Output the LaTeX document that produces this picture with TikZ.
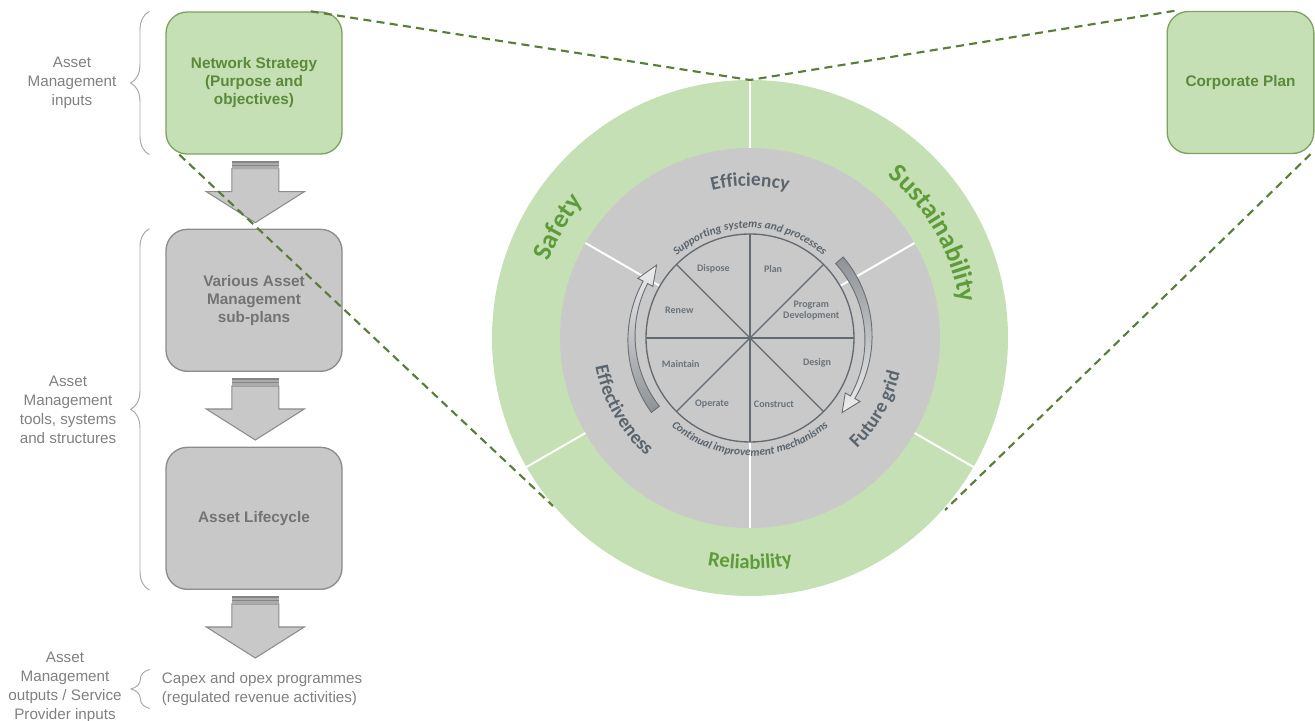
\documentclass[tikz,border=0pt]{standalone}
\usepackage{fontspec}
\setmainfont{Liberation Sans}
\newfontfamily\carlito{Carlito}
\usetikzlibrary{calc,positioning,decorations.text,decorations.pathreplacing}
\definecolor{leafgreen}{HTML}{C5E0B4}
\definecolor{boxedge}{HTML}{7FA35F}
\definecolor{greentext}{HTML}{5B8A3A}
\definecolor{boxgray}{HTML}{C8C8C8}
\definecolor{grayedge}{HTML}{8C8C8C}
\definecolor{graytext}{HTML}{737373}
\definecolor{labelgray}{HTML}{808080}
\definecolor{bracegray}{HTML}{A6A6A6}
\definecolor{ringtext}{HTML}{5E9B3A}
\definecolor{discgray}{HTML}{C9C9C9}
\definecolor{disctext}{HTML}{5B656E}
\definecolor{pietext}{HTML}{6B737B}
\definecolor{pieline}{HTML}{636A71}
\definecolor{dashgreen}{HTML}{5A7D3A}
\definecolor{arrowdark}{HTML}{8E9296}
\definecolor{arrowlight}{HTML}{EDEDED}
\definecolor{arrowedge}{HTML}{6B7075}
\definecolor{stripedark}{HTML}{858585}
\definecolor{stripelight}{HTML}{ABABAB}
\tikzset{
plan box/.style={draw=boxedge,fill=leafgreen,line width=1pt,rounded corners=16pt,
  minimum width=132pt,minimum height=106.5pt,align=center,text=greentext,
  font=\fontsize{11.5}{13.5}\selectfont\bfseries},
gray box/.style={plan box,draw=grayedge,fill=boxgray,text=graytext},
side label/.style={align=center,text=labelgray,font=\fontsize{11.4}{14.3}\selectfont},
bracket line/.style={draw=bracegray,line width=0.7pt,decorate,
  decoration={brace,amplitude=14pt}},
zoom line/.style={draw=dashgreen,line width=1.6pt,dash pattern=on 6pt off 4pt},
divider/.style={draw=white,line width=1.5pt},
pie line/.style={draw=pieline,line width=1pt},
phase/.style={text=pietext,align=center,font=\carlito\bfseries\fontsize{7.5}{8.3}\selectfont},
along/.style={decorate,decoration={text along path,text align=center,#1}},
cycle arrow/.style={draw=arrowedge,line width=0.7pt},
arrow body/.style={draw=grayedge,fill=boxgray,line width=0.8pt},
stage arrow/.pic={
  \draw[arrow body] (-23.5,-8) -- (-23.5,-31) -- (-49,-31) -- (0,-62)
    -- (49,-31) -- (23.5,-31) -- (23.5,-8) -- cycle;
  \fill[stripedark] (-23.5,0) rectangle (23.5,-2);
  \fill[stripelight] (-23.5,-2) rectangle (23.5,-4);
  \fill[stripedark] (-23.5,-4) rectangle (23.5,-5.5);
  \fill[stripelight] (-23.5,-5.5) rectangle (23.5,-8);
},
}
\begin{document}
\begin{tikzpicture}[x=0.75pt,y=0.75pt]
\useasboundingbox (0,0) rectangle (1315,721);

% wheel
\coordinate (c) at (750,383);
\coordinate (top) at ($(c)+(90:258)$);
\coordinate (llow) at (553,215);
\coordinate (rlow) at (945,211);
\begin{scope}[shift={(c)}]
  \fill[leafgreen] (0,0) circle (258);
  \fill[discgray] (0,0) circle (190);
  \foreach \a in {90,210,330} \draw[divider] (\a:190) -- (\a:258);
  \foreach \a in {30,150,270} \draw[divider] (\a:104) -- (\a:190);
  \draw[pie line] (0,0) circle (104);
  \foreach \a in {0,45,90,135} \draw[pie line] (\a:104) -- ({\a+180}:104);

  \node[phase] (plan) at (71.6:73) {Plan};
  \node[phase] (progdev) at (23.9:67) {Program\\Development};
  \node[phase] (design) at (-20.5:71.5) {Design};
  \node[phase] (construct) at (-70:70) {Construct};
  \node[phase] (operate) at (240:76) {Operate};
  \node[phase] (maintain) at (200.6:74) {Maintain};
  \node[phase] (renew) at (158.5:76) {Renew};
  \node[phase] (dispose) at (118:78) {Dispose};

  \draw[cycle arrow,top color=arrowlight,bottom color=arrowdark]
    plot[domain=0:65,variable=\t] ({217-\t}:{121+2.5*(65-\t)/65})
    -- (152:127) -- (142:118.5) -- (152:110)
    -- plot[domain=0:65,variable=\t] ({152+\t}:{116-2.5*\t/65}) -- cycle;
  \draw[cycle arrow,top color=arrowdark,bottom color=arrowlight]
    plot[domain=0:71,variable=\t] ({41-\t}:{121+2.5*(71-\t)/71})
    -- (-30:127) -- (-39:118.5) -- (-30:110)
    -- plot[domain=0:71,variable=\t] ({-30+\t}:{116-2.5*\t/71}) -- cycle;

  \path[along={text={|\carlito\bfseries\fontsize{20}{20}\selectfont|Safety},text color=ringtext}]
    (180:215) arc[start angle=180,end angle=120,radius=215];
  \path[along={text={|\carlito\bfseries\fontsize{20}{20}\selectfont|Sustainability},text color=ringtext}]
    (75:213) arc[start angle=75,end angle=-16,radius=213];
  \path[along={text={|\carlito\bfseries\fontsize{15.5}{16}\selectfont|Reliability},text color=ringtext}]
    (230:231) arc[start angle=230,end angle=310,radius=231];
  \path[along={text={|\carlito\bfseries\fontsize{14.5}{15}\selectfont|Efficiency},text color=disctext}]
    (130:152) arc[start angle=130,end angle=50,radius=152];
  \path[along={text={|\carlito\bfseries\fontsize{14.5}{15}\selectfont|Effectiveness},text color=disctext}]
    (170:157) arc[start angle=170,end angle=249,radius=157];
  \path[along={text={|\carlito\bfseries\fontsize{14.5}{15}\selectfont|Future grid},text color=disctext}]
    (291:154) arc[start angle=291,end angle=370,radius=154];
  \path[along={text={|\carlito\bfseries\itshape\fontsize{8.5}{9}\selectfont|Supporting systems and processes},text color=disctext}]
    (155:110) arc[start angle=155,end angle=25,radius=110];
  \path[along={text={|\carlito\bfseries\itshape\fontsize{8.5}{9}\selectfont|Continual improvement mechanisms},text color=disctext}]
    (205:118) arc[start angle=205,end angle=335,radius=118];
\end{scope}

% left column
\node[plan box] (ns) at (254,638) {Network Strategy\\(Purpose and\\objectives)};
\node[gray box,below=55.5pt of ns] (va) {Various Asset\\Management\\sub-plans};
\node[gray box,below=56pt of va] (lc) {Asset Lifecycle};
\node[plan box,minimum width=110pt] (cp) at (1240.5,638.5) {Corporate Plan};

\pic at ([xshift=1pt,yshift=-4.5pt]ns.south) {stage arrow};
\pic at ([xshift=1pt,yshift=-4.5pt]va.south) {stage arrow};
\pic at ([xshift=1pt,yshift=-4.5pt]lc.south) {stage arrow};

\node[side label] (inputs) at (72,638) {Asset\\Management\\inputs};
\node[side label] (tools) at (68,311.5) {Asset\\Management\\tools, systems\\and structures};
\node[side label] (outputs) at (65,34) {Asset\\Management\\outputs / Service\\Provider inputs};
\node[side label,anchor=west,align=left,inner sep=2pt] (capex) at (159,32)
  {Capex and opex programmes\\(regulated revenue activities)};

\draw[bracket line] ([xshift=-12pt]ns.south west) -- ([xshift=-12pt]ns.north west);
\draw[bracket line] ([xshift=-12pt]lc.south west) -- ([xshift=-12pt]va.north west);
\draw[bracket line] ([xshift=-7pt]capex.south west) -- ([xshift=-7pt]capex.north west);

\draw[zoom line] ([xshift=-24pt]ns.north east) -- (top);
\draw[zoom line] ([xshift=6pt]cp.north west) -- (top);
\draw[zoom line] ([xshift=10.5pt]ns.south west) -- (llow);
\draw[zoom line] ([xshift=-3pt]cp.south east) -- (rlow);
\end{tikzpicture}
\end{document}
